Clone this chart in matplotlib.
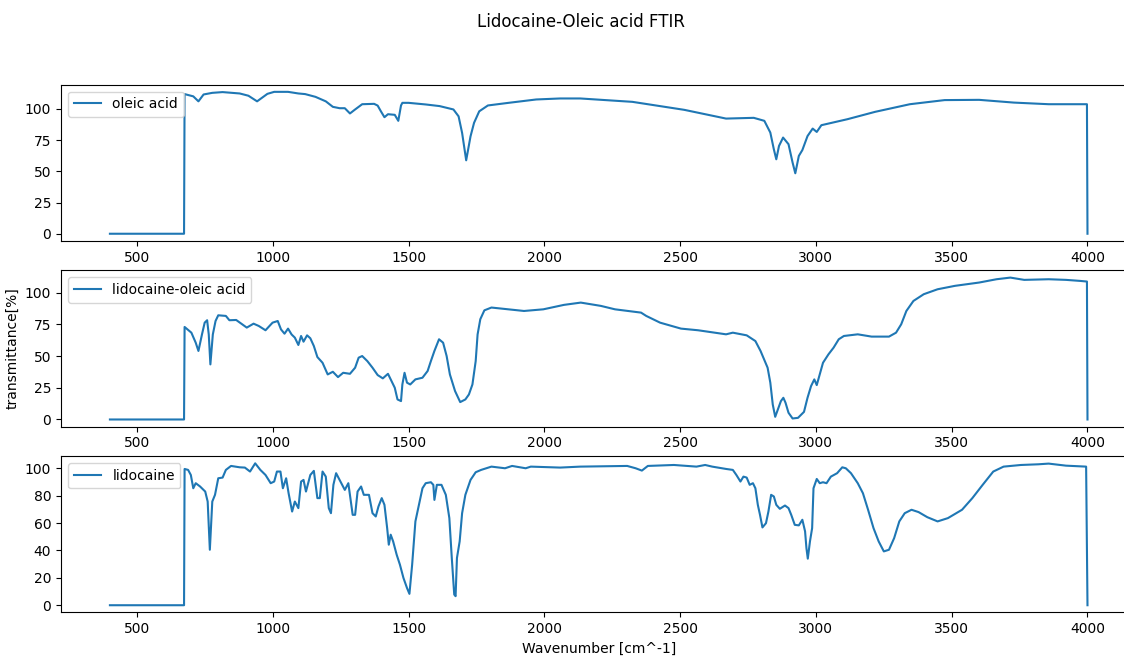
import numpy as np
import matplotlib.pyplot as plt
from matplotlib.ticker import MultipleLocator

# oleic acid
wn_oleic = [400, 673, 675, 707, 726, 745, 777, 815, 878, 910, 942, 980, 1005, 1056,
            1094, 1119, 1157, 1195, 1221, 1246, 1265, 1284, 1303, 1329, 1373, 1386,
            1398, 1411, 1424, 1449, 1462, 1472, 1477, 1500, 1563, 1614, 1665, 1684,
            1697, 1712, 1728, 1741, 1760, 1792, 1868, 1970, 2058, 2132, 2324, 2515,
            2669, 2771, 2810, 2832, 2845, 2854, 2864, 2879, 2899, 2914, 2924, 2937,
            2950, 2969, 2988, 3003, 3020, 3116, 3218, 3346, 3474, 3601, 3729, 3857,
            3998, 4000]
tr_oleic = [0, 0, 111.8, 110, 106, 111.5, 112.8, 113.4, 112.3, 110.5, 106, 112, 113.6,
            113.6, 112.3, 111.8, 109.6, 106, 101.6, 100.5, 100.5, 96.3, 99.5, 103.7,
            104, 102.6, 98, 93.3, 95.7, 95.2, 90.4, 102.7, 104.8, 104.8, 103.5, 102.2,
            99.5, 94, 80.7, 58.8, 78, 88.8, 98, 102.7, 104.8, 107.5, 108.3, 108.3,
            105.6, 99.2, 92.2, 92.8, 90.4, 81, 67.6, 59.6, 70.3, 77, 71.7, 57, 48.4,
            62.3, 67, 78.2, 84.2, 81.5, 86.9, 91.7, 97.6, 103.7, 107, 107.2, 105,
            103.7, 103.7, 0]

# lidocaine-oleic acid mixture
wn_mix = [400, 673, 675, 700, 716, 726, 739, 749, 758, 764, 770, 779, 789, 799, 827,
          840, 865, 904, 929, 948, 973, 999, 1018, 1030, 1043, 1056, 1069, 1081, 1094,
          1104, 1113, 1126, 1138, 1151, 1164, 1183, 1202, 1221, 1240, 1259, 1284, 1303,
          1316, 1329, 1348, 1367, 1386, 1405, 1424, 1437, 1449, 1459, 1472, 1477, 1485,
          1494, 1506, 1525, 1551, 1570, 1582, 1595, 1612, 1627, 1640, 1652, 1671, 1690,
          1709, 1722, 1735, 1747, 1754, 1764, 1779, 1805, 1868, 1925, 1996, 2072, 2134,
          2208, 2260, 2356, 2375, 2426, 2503, 2566, 2669, 2694, 2745, 2777, 2796, 2809,
          2822, 2832, 2841, 2850, 2860, 2871, 2880, 2888, 2899, 2914, 2934, 2956, 2969,
          2982, 2994, 3003, 3014, 3026, 3046, 3065, 3084, 3103, 3154, 3205, 3269, 3295,
          3314, 3333, 3359, 3397, 3448, 3512, 3601, 3665, 3716, 3767, 3857, 3921, 3972,
          3998, 4000]
tr_mix = [0, 0, 72.9, 68.4, 60.5, 54, 67, 76.3, 78.2, 67, 43.4, 67, 77.6, 82.1, 81.6,
          78.2, 78.4, 72.4, 75.5, 73.7, 70.3, 76.3, 77.6, 71, 67.6, 71.6, 67, 64.5, 58.7,
          65.8, 61.3, 66.3, 64, 57.9, 49.2, 44.7, 35.5, 37.6, 33.4, 36.8, 36, 40.8, 48.7,
          50, 46, 40.8, 35, 32.4, 36, 30.3, 25, 15.8, 14.5, 27.6, 36.8, 29, 27.6, 31.6,
          32.9, 38.2, 46, 54, 63.2, 60.5, 50, 35.5, 22.4, 13.7, 15.8, 19.7, 27.6, 46, 67,
          79, 86, 88.2, 86.8, 85.5, 86.8, 90.3, 92.1, 89.5, 86.8, 84.2, 81.6, 76.3, 71.6,
          70.3, 67.1, 68.4, 66.3, 61.8, 54, 47.4, 40.8, 29, 11.8, 2.1, 7.9, 14.5, 17.1,
          13.2, 5.3, 0.8, 1.3, 6, 17.1, 26.3, 31.6, 27.1, 35.5, 44.7, 51.3, 56.6, 63.2,
          65.8, 67.1, 65.3, 65.3, 68.4, 75, 85.5, 93.4, 98.7, 102.6, 105.3, 107.9, 110.5,
          111.8, 110, 110.5, 110, 109.2, 108.7, 0]

# lidocaine
wn_lido = [400, 673, 675, 688, 698, 707, 716, 732, 751, 760, 768, 777, 787, 799, 815,
           827, 846, 878, 897, 916, 935, 954, 973, 992, 1005, 1015, 1028, 1037, 1049,
           1058, 1071, 1081, 1094, 1104, 1113, 1122, 1138, 1151, 1164, 1173, 1183, 1195,
           1206, 1214, 1223, 1233, 1249, 1265, 1278, 1294, 1303, 1312, 1325, 1335, 1354,
           1367, 1379, 1389, 1401, 1411, 1421, 1427, 1434, 1443, 1456, 1468, 1481, 1494,
           1503, 1513, 1525, 1538, 1551, 1563, 1582, 1591, 1595, 1604, 1621, 1637, 1650,
           1659, 1668, 1673, 1678, 1688, 1697, 1709, 1728, 1747, 1767, 1805, 1855, 1881,
           1931, 1950, 2058, 2132, 2305, 2336, 2359, 2381, 2477, 2560, 2592, 2618, 2669,
           2694, 2707, 2722, 2733, 2745, 2756, 2768, 2777, 2786, 2794, 2803, 2816, 2825,
           2835, 2845, 2854, 2867, 2886, 2899, 2909, 2922, 2937, 2950, 2960, 2965, 2970,
           2978, 2986, 2991, 3003, 3014, 3026, 3039, 3055, 3078, 3097, 3110, 3129, 3154,
           3173, 3192, 3212, 3231, 3250, 3269, 3288, 3307, 3327, 3352, 3378, 3410, 3448,
           3486, 3538, 3576, 3614, 3653, 3691, 3755, 3819, 3857, 3921, 3995, 4000]
tr_lido = [0, 0, 99.5, 98.8, 95.1, 85.4, 89.1, 86.7, 83, 75.7, 40.5, 75.7, 80.6, 92.7,
           93.2, 98.8, 101.7, 100.7, 100.5, 97.6, 103.6, 98.8, 95.1, 89.1, 90.3, 97.6,
           97.6, 85.4, 92.7, 81.8, 68.4, 75.7, 70.9, 90.3, 91.5, 83, 95.1, 98.1, 78.2,
           78.2, 97.6, 93.9, 70.9, 67.2, 87.9, 96.4, 90.3, 84.2, 89.1, 66, 66, 83, 86.7,
           80.6, 80.6, 67.2, 64.8, 72.1, 78.2, 73.3, 56.3, 44.2, 51.5, 46.6, 36.9, 29.6,
           19.9, 12.6, 8.3, 29.6, 61.2, 73.3, 85.4, 89.1, 89.8, 87.9, 76.9, 87.9, 87.9,
           80.6, 63.6, 34.5, 7.8, 6.6, 34.5, 46.6, 67.2, 80.6, 91.5, 97.1, 98.8, 101.2,
           100, 101.7, 100, 101.2, 100.5, 101.2, 101.7, 100, 98.3, 101.7, 102.4, 101.2,
           102.4, 101.2, 99.5, 98.8, 95.1, 90.3, 93.9, 93.2, 87.9, 89.1, 85.4, 73.3, 66,
           56.8, 59.9, 68.4, 80.6, 79.4, 73.3, 70.4, 72.8, 70.9, 66, 58.7, 58.3, 62.4,
           53.9, 41.7, 34, 46.6, 56.3, 85.4, 92.2, 89.1, 89.8, 89.1, 93.9, 96.4, 100.7,
           100, 96.4, 89.1, 81.8, 69.7, 56.3, 46.6, 39.3, 40.5, 49, 61.2, 67.2, 69.7, 68,
           64.3, 61.2, 63.6, 69.7, 78.2, 87.9, 97.6, 101.2, 102.4, 102.9, 103.4, 101.9,
           101.2, 0]

fig, axs = plt.subplots(3, 1, figsize=(11.24, 6.57), dpi=100)
fig.subplots_adjust(left=0.0543, right=1.011, top=0.871, bottom=0.068, hspace=0.19)
fig.suptitle("Lidocaine-Oleic acid FTIR", x=0.517)

axs[0].plot(wn_oleic, tr_oleic, label="oleic acid")
axs[1].plot(wn_mix, tr_mix, label="lidocaine-oleic acid")
axs[2].plot(wn_lido, tr_lido, label="lidocaine")

axs[0].yaxis.set_major_locator(MultipleLocator(25))
axs[1].yaxis.set_major_locator(MultipleLocator(25))
axs[2].yaxis.set_major_locator(MultipleLocator(20))

for ax in axs:
    ax.legend(loc="upper left")

axs[1].set_ylabel("transmittance[%]")
axs[2].set_xlabel("Wavenumber [cm^-1]")

fig.savefig("out.png")
